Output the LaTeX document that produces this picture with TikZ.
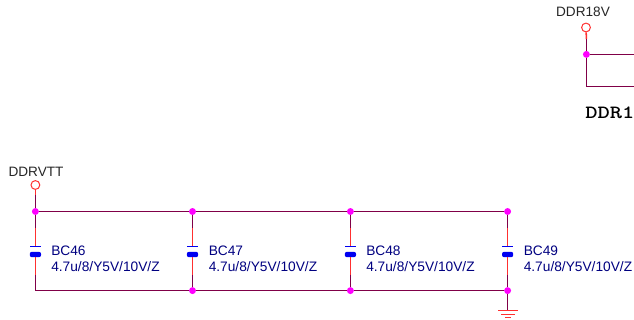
\documentclass[tikz,border=0pt]{standalone}
\usepackage{fontspec}
\setmainfont{Liberation Sans}
\usetikzlibrary{positioning}
\definecolor{netwire}{RGB}{128,0,72}
\definecolor{pinred}{RGB}{255,48,48}
\definecolor{capblue}{RGB}{0,0,240}
\definecolor{textblue}{RGB}{0,0,128}
\definecolor{dotpink}{RGB}{255,0,255}
\begin{document}
\begin{tikzpicture}[x=.75pt,y=-.75pt]
  \tikzstyle{junction}=[circle,fill=dotpink,inner sep=0pt,minimum size=5.2pt]
  \tikzstyle{port}=[circle,draw=pinred,fill=white,line width=.75pt,inner sep=0pt,minimum size=6.6pt]
  \tikzstyle{net}=[draw=netwire,line width=1.15pt]
  \tikzstyle{pin}=[draw=pinred,line width=1.15pt]
  \tikzstyle{topplate}=[rectangle,fill=capblue,inner sep=0pt,minimum width=8.4pt,minimum height=1pt]
  \tikzstyle{botplate}=[rectangle,rounded corners=1.5pt,fill=capblue,inner sep=0pt,minimum width=8.4pt,minimum height=4pt]
  \tikzstyle{capval}=[inner sep=0pt,anchor=west,align=left,text=textblue,
                      font=\fontsize{10.3}{12}\selectfont]
  \tikzstyle{netname}=[inner sep=0pt,text=black!85,font=\fontsize{10.2}{12}\selectfont]
  \useasboundingbox (0,0) rectangle (634,320);
  \begin{scope}
    \node [junction] (j1) at (35.4,211.5) {};
    \coordinate (b1) at (35.4,290.6);
    \coordinate (u1) at (35.4,228);
    \coordinate (d1) at (35.4,275);
    \node [topplate] (pa1) at (35.4,246.5) {};
    \node [botplate] (pb1) at (35.4,254.5) {};
    \node [capval] (c1) at (51,259) {BC46\\4.7u/8/Y5V/10V/Z};
  \end{scope}
  \begin{scope}
    \node [junction] (j2) at (192.5,211.5) {};
    \node [junction] (b2) at (192.5,290.6) {};
    \coordinate (u2) at (192.5,228);
    \coordinate (d2) at (192.5,275);
    \node [topplate] (pa2) at (192.5,246.5) {};
    \node [botplate] (pb2) at (192.5,254.5) {};
    \node [capval] (c2) at (208.5,259) {BC47\\4.7u/8/Y5V/10V/Z};
  \end{scope}
  \begin{scope}
    \node [junction] (j3) at (350.4,211.5) {};
    \node [junction] (b3) at (350.4,290.6) {};
    \coordinate (u3) at (350.4,228);
    \coordinate (d3) at (350.4,275);
    \node [topplate] (pa3) at (350.4,246.5) {};
    \node [botplate] (pb3) at (350.4,254.5) {};
    \node [capval] (c3) at (366,259) {BC48\\4.7u/8/Y5V/10V/Z};
  \end{scope}
  \begin{scope}
    \node [junction] (j4) at (507.6,211.5) {};
    \node [junction] (b4) at (507.6,290.6) {};
    \coordinate (u4) at (507.6,228);
    \coordinate (d4) at (507.6,275);
    \node [topplate] (pa4) at (507.6,246.5) {};
    \node [botplate] (pb4) at (507.6,254.5) {};
    \node [capval] (c4) at (523.5,259) {BC49\\4.7u/8/Y5V/10V/Z};
  \end{scope}
  \node [port] (vtt) at (35.4,185) {};
  \node [netname] (vttname) at (36,172) {DDRVTT};
  \coordinate (t1) at (35.4,195);
  \draw [pin] (vtt) -- (t1);
  \draw [net] (t1) -- (j1);
  \draw [net] (j1) -- (j2);
  \draw [net] (j2) -- (j3);
  \draw [net] (j3) -- (j4);
  \draw [net] (b1) -- (b2);
  \draw [net] (b2) -- (b3);
  \draw [net] (b3) -- (b4);
  \draw [net] (j1) -- (u1);  \draw [pin] (u1) -- (pa1);
  \draw [net] (j2) -- (u2);  \draw [pin] (u2) -- (pa2);
  \draw [net] (j3) -- (u3);  \draw [pin] (u3) -- (pa3);
  \draw [net] (j4) -- (u4);  \draw [pin] (u4) -- (pa4);
  \draw [pin] (pb1) -- (d1);  \draw [net] (d1) -- (b1);
  \draw [pin] (pb2) -- (d2);  \draw [net] (d2) -- (b2);
  \draw [pin] (pb3) -- (d3);  \draw [net] (d3) -- (b3);
  \draw [pin] (pb4) -- (d4);  \draw [net] (d4) -- (b4);
  % ground
  \coordinate (gnd) at (507.6,310.5);
  \draw [net] (b4) -- (gnd);
  \draw [pin] (498,310.5) -- (517.5,310.5);
  \draw [pin] (501,314.4) -- (514.5,314.4);
  \draw [pin] (505,317.6) -- (511,317.6);
  % upper right
  \node [port] (v18) at (586,27.5) {};
  \node [netname] (v18name) at (583,12) {DDR18V};
  \node [junction] (j5) at (586.4,54.4) {};
  \coordinate (t5) at (586.4,39);
  \coordinate (r1) at (634,54.4);
  \coordinate (k1) at (586.4,86.4);
  \coordinate (r2) at (634,86.4);
  \draw [pin] (v18) -- (t5);
  \draw [net] (t5) -- (j5);
  \draw [net] (j5) -- (r1);
  \draw [net] (j5) -- (k1) -- (r2);
  \node [inner sep=0pt,anchor=west,xscale=1.25,font=\fontsize{14}{16}\selectfont\ttfamily\bfseries] (title) at (585,113) {DDR1};
\end{tikzpicture}
\end{document}
